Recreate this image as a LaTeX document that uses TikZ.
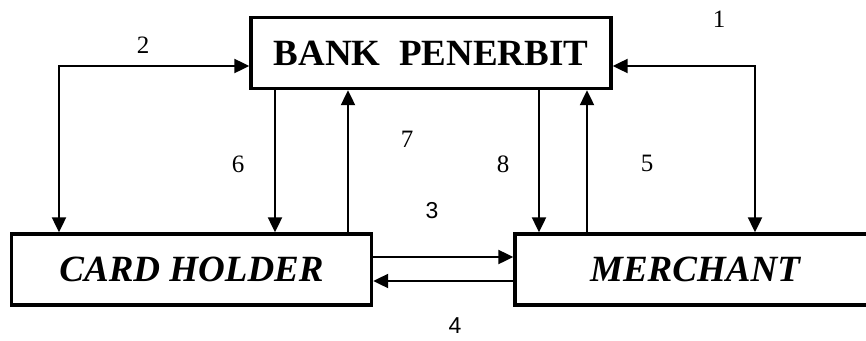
\documentclass[tikz,border=0pt]{standalone}
\usepackage{fontspec}
\setmainfont{Liberation Serif}
\newfontfamily\labsans{Liberation Sans}
\usetikzlibrary{arrows.meta,calc}
\begin{document}
\begin{tikzpicture}[x=1pt,y=-1pt,
  party/.style={draw,line width=3.4pt,inner sep=0pt,minimum width=360pt,minimum height=71pt,font=\fontsize{37}{40}\selectfont\bfseries},
  flow/.style={line width=2.2pt,-{Triangle[length=15pt,width=14pt]}},
  both/.style={line width=2.2pt,{Triangle[length=15pt,width=14pt]}-{Triangle[length=15pt,width=14pt]}},
  num/.style={font=\fontsize{25}{27}\selectfont,inner sep=0pt},
  snum/.style={font=\labsans\fontsize{23}{25}\selectfont,inner sep=0pt}]
\useasboundingbox (0,0) rectangle (866,340);

% parties
\node[party] (bank) at (431,53) {BANK\ \ PENERBIT};
\node[party] (ch) at (191.5,269.5) {\itshape CARD HOLDER};
\node[party] (me) at (695,269.5) {\itshape MERCHANT};

% corner points of the two outer loops
\coordinate (c2) at (59,66);
\coordinate (c2a) at (107,66);
\coordinate (c2b) at (179,66);
\coordinate (c1) at (755,66);

% flow 2: bank <-> card holder over the left side
\draw[line width=2.2pt,-{Triangle[length=15pt,width=14pt]}] (c2a) -- (c2) -- (c2 |- ch.north);
\draw[line width=1.2pt] (c2a) -- (c2b);
\draw[flow] (c2b) -- (c2 -| bank.west);

% flow 1: bank <-> merchant over the right side
\draw[both] (c1 -| bank.east) -- (c1) -- (c1 |- me.north);

% vertical flows
\draw[flow] (bank.south -| 275,0) -- (ch.north -| 275,0);
\draw[flow] (ch.north -| 348,0) -- (bank.south -| 348,0);
\draw[flow] (bank.south -| 539,0) -- (me.north -| 539,0);
\draw[flow] (me.north -| 587,0) -- (bank.south -| 587,0);

% horizontal flows between card holder and merchant
\draw[flow] (ch.east |- 0,257) -- (me.west |- 0,257);
\draw[flow] (me.west |- 0,281) -- (ch.east |- 0,281);

% step numbers
\node[num] (n1) at (719,19) {1};
\node[num] (n2) at (143,45) {2};
\node[snum] (n3) at (432,211) {3};
\node[snum] (n4) at (455,326) {4};
\node[num] (n5) at (647,163) {5};
\node[num] (n6) at (238,164) {6};
\node[num] (n7) at (407,139) {7};
\node[num] (n8) at (503,164) {8};
\end{tikzpicture}
\end{document}
